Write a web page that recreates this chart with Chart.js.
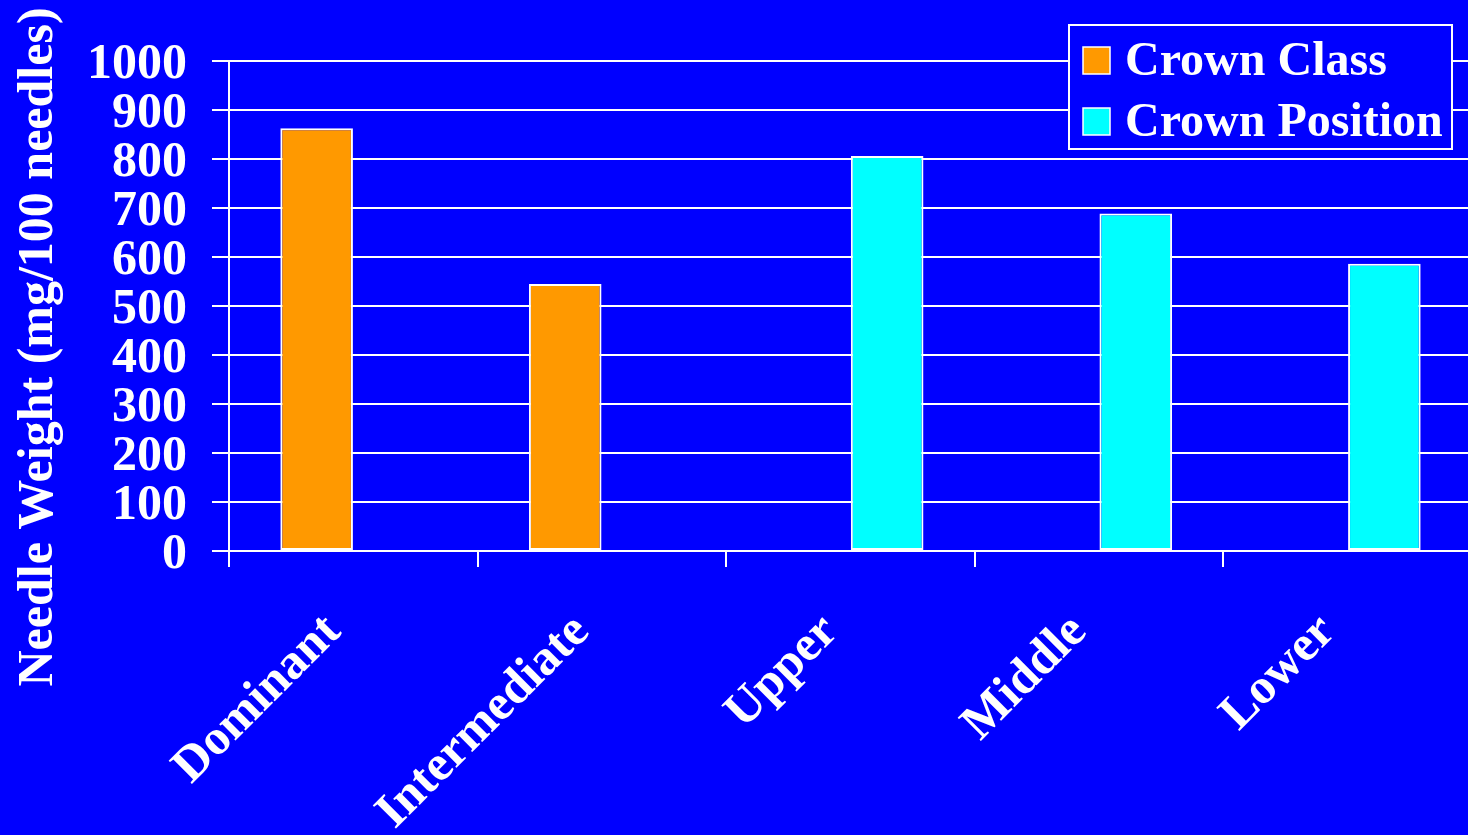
<!DOCTYPE html>
<html>
<head>
<meta charset="utf-8">
<script src="https://cdn.jsdelivr.net/npm/chart.js@4"></script>
<style>
  html, body { margin: 0; padding: 0; background: #0000ff; overflow: hidden; width: 1468px; height: 835px; }
  #wrap { position: absolute; left: 0; top: 0; width: 1472px; height: 835px; }
</style>
</head>
<body>
<div id="wrap"><canvas id="c" width="1472" height="835"></canvas></div>
<script>
// Needle weight by crown class and crown position
const categories = ['Dominant', 'Intermediate', 'Upper', 'Middle', 'Lower'];
const crownClass = [863, 545, null, null, null];
const crownPosition = [null, null, 806, 689, 586];
const seriesNames = ['Crown Class', 'Crown Position'];
const yTicks = [0, 100, 200, 300, 400, 500, 600, 700, 800, 900, 1000];
const yTitle = 'Needle Weight (mg/100 needles)';

const FAMILY = "'Liberation Serif', 'Times New Roman', serif";
const WHITE = '#ffffff';
const BG = '#0000ff';

// Vertical axis title, drawn beside the tick labels
const yTitlePlugin = {
  id: 'yTitle',
  afterDraw(chart) {
    const ctx = chart.ctx;
    ctx.save();
    ctx.translate(52, 347);
    ctx.rotate(-Math.PI / 2);
    ctx.font = 'bold 50px ' + FAMILY;
    ctx.fillStyle = WHITE;
    ctx.textAlign = 'center';
    ctx.textBaseline = 'alphabetic';
    ctx.fillText(yTitle, 0, 0);
    ctx.restore();
  }
};

// Boxed legend in the upper right corner
const boxLegend = {
  id: 'boxLegend',
  afterDraw(chart) {
    const ctx = chart.ctx;
    const box = { x: 1069, y: 25, w: 383, h: 124 };
    ctx.save();
    ctx.fillStyle = BG;
    ctx.fillRect(box.x, box.y, box.w, box.h);
    ctx.strokeStyle = WHITE;
    ctx.lineWidth = 2;
    ctx.strokeRect(box.x, box.y, box.w, box.h);
    ctx.font = 'bold 48px ' + FAMILY;
    ctx.textAlign = 'left';
    ctx.textBaseline = 'alphabetic';
    chart.data.datasets.forEach((ds, i) => {
      const sy = 47 + i * 61;
      ctx.fillStyle = ds.backgroundColor;
      ctx.fillRect(1083, sy, 27, 27);
      ctx.strokeStyle = WHITE;
      ctx.lineWidth = 1.5;
      ctx.strokeRect(1083, sy, 27, 27);
      ctx.fillStyle = WHITE;
      ctx.fillText(ds.label, 1125, 75 + i * 61);
    });
    ctx.restore();
  }
};

new Chart(document.getElementById('c'), {
  type: 'bar',
  data: {
    labels: categories,
    datasets: [
      {
        label: seriesNames[0],
        data: crownClass,
        backgroundColor: '#ff9900',
        borderColor: WHITE,
        borderWidth: 2,
        borderSkipped: false
      },
      {
        label: seriesNames[1],
        data: crownPosition,
        backgroundColor: '#00ffff',
        borderColor: WHITE,
        borderWidth: 2,
        borderSkipped: false
      }
    ]
  },
  options: {
    responsive: false,
    animation: false,
    devicePixelRatio: 1,
    categoryPercentage: 0.59,
    barPercentage: 0.99,
    layout: { padding: { top: 61, right: 0, bottom: 0, left: 0 } },
    plugins: {
      legend: { display: false },
      tooltip: { enabled: false }
    },
    scales: {
      x: {
        offset: true,
        grid: {
          display: true,
          drawOnChartArea: false,
          drawTicks: true,
          tickLength: 16,
          color: WHITE,
          lineWidth: 2,
          offset: true
        },
        border: { display: true, color: WHITE, width: 2 },
        ticks: {
          color: WHITE,
          font: { family: FAMILY, size: 50, weight: 'bold' },
          minRotation: 45,
          maxRotation: 45,
          autoSkip: false,
          padding: 36,
          labelOffset: -20
        },
        afterFit(scale) { scale.height = 284; }
      },
      y: {
        min: 0,
        max: 1000,
        afterBuildTicks(scale) { scale.ticks = yTicks.map(v => ({ value: v })); },
        ticks: {
          color: WHITE,
          font: { family: FAMILY, size: 50, weight: 'bold' },
          padding: 25,
          labelOffset: 4,
          autoSkip: false,
          callback: (value) => String(value)
        },
        grid: {
          color: WHITE,
          lineWidth: 2,
          drawTicks: true,
          tickLength: 17
        },
        border: { display: true, color: WHITE, width: 2 },
        afterFit(scale) { scale.width = 229; }
      }
    }
  },
  plugins: [yTitlePlugin, boxLegend]
});
</script>
</body>
</html>
